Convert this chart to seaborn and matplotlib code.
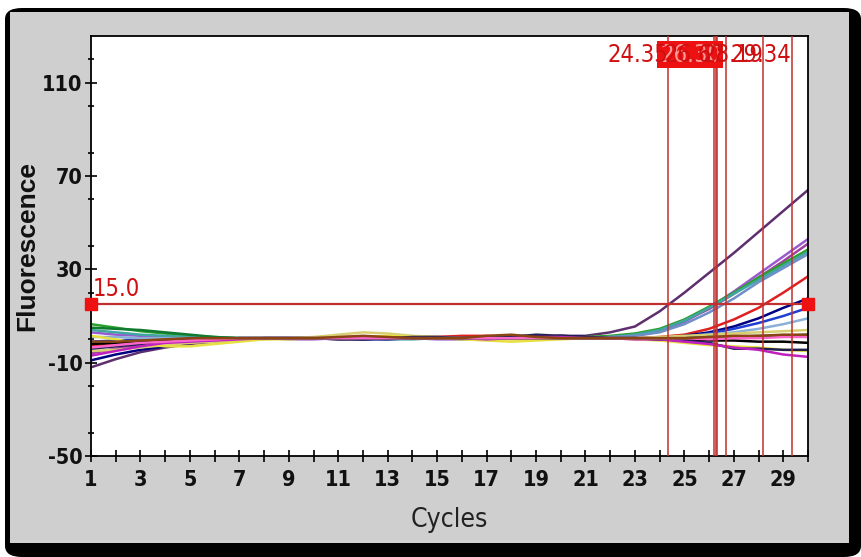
import numpy as np
import pandas as pd
import matplotlib
matplotlib.use("Agg")
import matplotlib.pyplot as plt
from matplotlib.patches import FancyBboxPatch, Rectangle
from matplotlib.ticker import MultipleLocator
import seaborn as sns

# amplification curves, fluorescence per cycle
cycles = list(range(1, 31))
purple_top = [-12.0, -8.5, -5.5, -3.5, -2.0, -1.0, 0.0, 0.5, 0.5, 0.5, 0.0, 0.0, 0.5, 1.0, 1.0, 1.0, 0.5, 0.5, 1.0, 1.5, 1.5, 3.0, 5.5, 12.0, 20.0, 28.5, 37.0, 46.0, 55.0, 64.0]
violet = [3.0, 2.0, 1.5, 1.0, 0.5, 0.5, 0.5, 0.5, 0.0, 0.0, 0.5, 0.5, 0.5, 0.5, 0.0, 0.0, 0.5, 0.5, 0.5, 0.5, 0.5, 1.0, 1.5, 3.5, 7.5, 13.5, 20.5, 28.0, 35.5, 43.0]
purple2 = [-6.0, -4.0, -2.5, -1.5, -0.5, 0.0, 0.5, 0.5, 0.5, 0.5, 1.0, 1.0, 0.5, 0.5, 0.5, 0.5, 0.0, 0.5, 0.5, 0.5, 0.5, 1.0, 2.0, 4.0, 8.0, 13.0, 19.5, 26.5, 33.5, 41.0]
green = [6.5, 5.0, 3.5, 2.5, 1.5, 1.0, 0.5, 0.5, 0.5, 0.5, 0.5, 1.0, 1.0, 0.5, 0.5, 0.5, 0.5, 0.5, 0.5, 0.5, 1.0, 1.5, 2.5, 4.5, 8.5, 14.0, 20.0, 26.5, 32.5, 38.5]
teal = [4.0, 3.0, 2.0, 1.5, 1.0, 0.5, 0.5, 0.5, 0.5, 0.5, 0.5, 0.5, 0.0, 0.0, 0.5, 0.5, 0.5, 0.5, 0.5, 0.5, 0.5, 1.0, 2.0, 4.0, 8.0, 13.5, 19.5, 25.5, 31.5, 37.5]
steel = [-2.0, -1.0, -0.5, 0.0, 0.0, 0.5, 0.5, 0.5, 0.5, 0.5, 0.5, 0.5, 0.5, 0.5, 0.5, 0.0, 0.0, 0.5, 0.5, 0.5, 0.5, 1.0, 1.5, 3.0, 6.5, 11.5, 17.5, 24.5, 30.5, 36.5]
red = [-3.0, -2.0, -1.0, -0.5, 0.0, 0.0, 0.5, 0.5, 0.5, 0.5, 0.5, 0.5, 0.5, 1.0, 1.0, 1.5, 1.5, 1.0, 0.5, 0.5, 0.5, 0.5, 0.5, 1.0, 2.0, 4.5, 8.5, 13.5, 20.0, 27.0]
navy = [-9.0, -6.5, -4.5, -3.0, -1.5, -0.5, 0.0, 0.5, 0.5, 0.5, 0.5, 0.0, 0.0, 0.5, 0.5, 0.5, 0.5, 0.5, 1.0, 1.5, 1.0, 0.5, 0.5, 0.5, 1.5, 3.0, 5.5, 9.0, 13.5, 17.5]
blue = [-1.0, -0.5, 0.0, 0.0, 0.5, 0.5, 0.5, 0.5, 0.5, 0.5, 0.5, 0.5, 0.5, 0.5, 0.5, 0.5, 1.0, 1.5, 1.5, 1.0, 0.5, 0.5, 0.5, 0.5, 1.0, 2.5, 4.5, 7.0, 10.0, 13.5]
lightblue = [1.0, 1.0, 0.5, 0.5, 0.5, 0.5, 0.5, 0.5, 0.5, 0.5, 0.5, 0.5, 0.5, 0.5, 0.5, 0.5, 0.5, 0.5, 0.5, 0.5, 0.5, 0.5, 0.5, 0.5, 1.0, 2.0, 3.0, 4.5, 6.5, 9.0]
khaki = [-5.0, -4.5, -3.5, -2.5, -1.5, -1.0, -0.5, 0.0, 0.5, 1.0, 2.0, 3.0, 2.5, 1.5, 1.0, 0.5, 0.5, 0.0, 0.0, 0.5, 0.5, 0.5, 0.5, 1.0, 1.5, 2.0, 2.5, 3.0, 3.5, 4.0]
yellow = [1.5, 0.0, -2.0, -3.0, -3.0, -2.0, -1.0, 0.0, 0.0, 0.5, 0.5, 1.0, 1.5, 1.0, 0.5, 0.0, -0.5, -1.0, -0.5, 0.0, 0.5, 0.5, 0.0, -0.5, -1.5, -2.5, -3.0, -3.5, -4.5, -5.0]
black = [-2.0, -1.5, -1.0, -0.5, 0.0, 0.0, 0.5, 0.5, 0.5, 0.5, 0.5, 0.5, 0.5, 0.5, 0.5, 0.5, 0.5, 0.5, 0.5, 0.5, 0.5, 0.5, 0.5, 0.0, 0.0, -0.5, -0.5, -1.0, -1.0, -1.5]
darknavy = [-4.0, -3.0, -2.0, -1.0, -0.5, 0.0, 0.5, 0.5, 0.5, 0.5, 0.0, 0.0, 0.5, 1.0, 1.0, 0.5, 0.5, 1.0, 2.0, 1.5, 1.0, 0.5, 0.5, 0.0, -0.5, -1.5, -4.0, -4.0, -4.5, -4.5]
magenta = [-7.0, -5.0, -3.0, -1.5, -1.0, -0.5, 0.0, 0.5, 0.5, 0.5, 0.5, 0.5, 0.5, 0.5, 0.5, 0.5, 0.0, 0.5, 1.0, 1.0, 0.5, 0.5, 0.0, 0.0, -1.0, -2.0, -3.5, -4.5, -6.5, -7.5]
dkgreen = [5.0, 4.5, 4.0, 3.0, 2.0, 1.0, 0.5, 0.5, 0.5, 0.5, 0.5, 0.5, 0.5, 0.5, 0.5, 0.5, 0.5, 0.5, 0.5, 0.5, 0.5, 0.5, 0.5, 0.5, 0.5, 1.0, 1.0, 1.5, 1.5, 2.0]
pink = [-3.5, -2.5, -1.5, -1.0, -0.5, 0.0, 0.5, 0.5, 0.5, 0.5, 0.5, 0.5, 0.5, 0.5, 0.5, 0.5, 0.5, 0.5, 0.5, 0.5, 0.5, 0.5, 0.5, 0.5, 0.5, 0.0, 0.5, 0.5, 1.0, 1.0]
brown = [-1.0, -1.0, -0.5, 0.0, 0.5, 0.5, 0.5, 0.5, 0.5, 0.5, 1.0, 1.5, 1.0, 0.5, 0.5, 0.5, 1.5, 2.0, 1.0, 0.5, 0.5, 0.5, 0.5, 0.5, 0.5, 1.0, 1.5, 1.5, 2.0, 2.0]

curves = {
    "purple_top": purple_top, "violet": violet, "purple2": purple2, "green": green,
    "teal": teal, "steel": steel, "red": red, "navy": navy, "blue": blue,
    "lightblue": lightblue, "khaki": khaki, "yellow": yellow, "black": black,
    "darknavy": darknavy, "magenta": magenta, "dkgreen": dkgreen, "pink": pink,
    "brown": brown,
}
palette = {
    "purple_top": "#5e2f6e", "violet": "#9b59d0", "purple2": "#a040a0", "green": "#2ca02c",
    "teal": "#3fa7a0", "steel": "#6f8fc8", "red": "#e02020", "navy": "#000080", "blue": "#1f3fd0",
    "lightblue": "#8ab0d8", "khaki": "#d8d070", "yellow": "#e8e040", "black": "#000000",
    "darknavy": "#202050", "magenta": "#c020c0", "dkgreen": "#107a30", "pink": "#ff66cc",
    "brown": "#8b4513",
}

threshold = 15.0
ct_values = [24.35, 26.21, 26.26, 26.30, 26.67, 28.19, 29.34]
boxed_ct = [26.21, 26.26, 26.30]

rows = []
for name, vals in curves.items():
    for c, v in zip(cycles, vals):
        rows.append((name, c, v))
df = pd.DataFrame(rows, columns=["well", "cycle", "fluor"])

sns.set_style("white")
plt.rcParams["font.family"] = ["DejaVu Sans"]
plt.rcParams["font.stretch"] = "condensed"
plt.rcParams["axes.unicode_minus"] = False

fig = plt.figure(figsize=(8.61, 5.57), dpi=100)
fig.patch.set_facecolor("white")
# the grey window with its black shadow frame
fig.patches.append(FancyBboxPatch((5 / 861, 0), 1 - 5 / 861, 549 / 557, boxstyle="round,pad=0,rounding_size=0.02",
                                  transform=fig.transFigure, facecolor="black", edgecolor="none", zorder=-3))
fig.patches.append(Rectangle((10 / 861, 14 / 557), 839 / 861, 531 / 557,
                             transform=fig.transFigure, facecolor="#cfcfcf", edgecolor="none", zorder=-2))

ax = fig.add_axes([91 / 861, 101 / 557, 717 / 861, 420 / 557])
ax.set_facecolor("white")

sns.lineplot(data=df, x="cycle", y="fluor", hue="well", palette=palette, legend=False,
             linewidth=1.8, ax=ax, zorder=2)

# threshold line with end handles
ax.axhline(threshold, color="#c03030", lw=1.6, zorder=3)
ax.plot([1, 30], [threshold, threshold], ls="none", marker="s", ms=9, color="#ee1111", clip_on=False, zorder=5)
ax.text(1.05, threshold + 1.5, "15.0", color="#d01010", fontsize=17, ha="left", va="bottom")

# Ct lines and labels
for ct in ct_values:
    ax.axvline(ct, color="#c03030", lw=1.1, zorder=3)
for ct in ct_values:
    if ct in boxed_ct:
        ax.text(ct + 0.2, 122, f"{ct:.2f}", color="#ff9a9a", fontsize=17, ha="right", va="center",
                bbox=dict(facecolor="#ee1111", edgecolor="none", pad=1), zorder=6)
    else:
        ax.text(ct, 122, f"{ct:.2f}", color="#d01010", fontsize=17, ha="right", va="center", zorder=7)

ax.set_xlim(1, 30)
ax.set_ylim(-50, 130)
ax.set_xticks(range(1, 31))
ax.set_xticklabels([str(c) if c % 2 == 1 else "" for c in range(1, 31)])
ax.set_yticks([-50, -10, 30, 70, 110])
ax.yaxis.set_minor_locator(MultipleLocator(20))
ax.tick_params(axis="both", which="major", direction="inout", length=8, width=1.2, color="black",
               labelsize=15.5, pad=2, left=True, bottom=True)
ax.tick_params(axis="x", which="major", pad=6)
ax.tick_params(axis="y", which="minor", direction="inout", length=5, width=1.2, color="black", left=True)
for lab in ax.get_xticklabels() + ax.get_yticklabels():
    lab.set_fontweight("bold")
    lab.set_color("#111111")
for s in ax.spines.values():
    s.set_color("black")
    s.set_linewidth(1.3)

ax.set_xlabel("Cycles", fontsize=19, labelpad=12, color="#222222")
ax.set_ylabel("Fluorescence", fontsize=19, fontweight="bold", fontstretch="normal",
              family=["Liberation Sans", "DejaVu Sans"], labelpad=2, color="#111111")

fig.savefig("out.png", dpi=100)
